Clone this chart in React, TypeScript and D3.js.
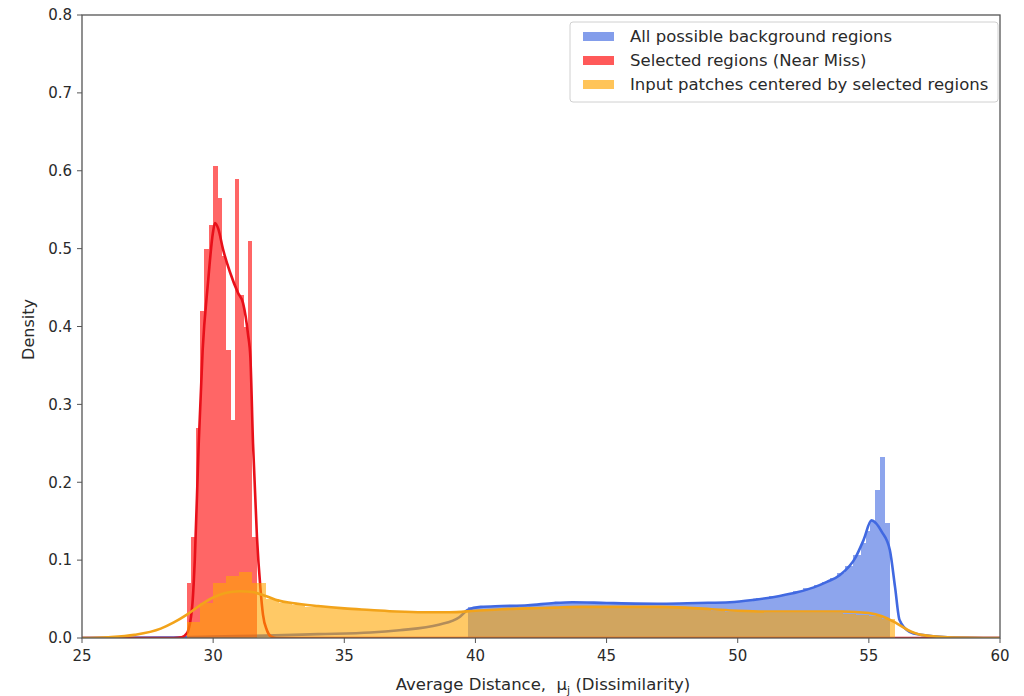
import React from "react";
import * as d3 from "d3";

// ---------- data ----------
const xTicks = [25, 30, 35, 40, 45, 50, 55, 60];
const yTicks = [0.0, 0.1, 0.2, 0.3, 0.4, 0.5, 0.6, 0.7, 0.8];

const legendLabels = [
  "All possible background regions",
  "Selected regions (Near Miss)",
  "Input patches centered by selected regions",
];

// Blue histogram (variable bin edges)
const blueEdges = [
  39.7, 40.2, 40.7, 41.2, 41.7, 42.2, 42.7, 43.2, 43.7, 44.2, 44.7, 45.2, 45.7, 46.2, 46.7,
  47.2, 47.7, 48.2, 48.7, 49.2, 49.7, 50.2, 50.7, 51.2, 51.7, 52.1, 52.5, 52.9, 53.2, 53.5,
  53.8, 54.1, 54.4, 54.7, 54.9, 55.05, 55.22, 55.41, 55.6, 55.8,
];
const blueHeights = [
  0.040, 0.040, 0.041, 0.040, 0.041, 0.043, 0.044, 0.045, 0.046, 0.045, 0.044, 0.044, 0.044,
  0.044, 0.044, 0.044, 0.044, 0.044, 0.045, 0.045, 0.046, 0.048, 0.051, 0.054, 0.057, 0.060,
  0.064, 0.068, 0.072, 0.077, 0.083, 0.093, 0.106, 0.122, 0.138, 0.150, 0.190, 0.233, 0.148,
];
const blueKdeX = [
  25, 28, 30, 32, 34, 36, 37.1, 38.6, 39.4, 39.7, 40.2, 41, 42, 43, 43.7, 45, 47.1, 48.5, 49.7,
  50.6, 51.6, 52.3, 52.9, 53.4, 53.9, 54.5, 54.8, 55.1, 55.5, 55.8, 56.0, 56.17, 56.55, 57, 58, 60,
];
const blueKdeY = [
  0.0, 0.0005, 0.002, 0.003, 0.005, 0.007, 0.010, 0.017, 0.027, 0.036, 0.040, 0.041, 0.042,
  0.045, 0.046, 0.045, 0.044, 0.045, 0.046, 0.049, 0.054, 0.059, 0.065, 0.072, 0.081, 0.104,
  0.126, 0.151, 0.136, 0.113, 0.065, 0.023, 0.008, 0.004, 0.001, 0.0,
];

// Red histogram (uniform bins)
const redStart = 29.0;
const redBinWidth = 0.1667;
const redHeights = [
  0.07, 0.13, 0.27, 0.42, 0.50, 0.53, 0.606, 0.565, 0.49, 0.37, 0.28, 0.59, 0.44, 0.40, 0.51, 0.13,
];
const redKdeX = [
  25, 28.5, 28.8, 29.0, 29.2, 29.3, 29.45, 29.6, 29.8, 29.99, 30.07, 30.2, 30.37, 30.64, 30.95,
  31.14, 31.33, 31.42, 31.52, 31.67, 31.8, 31.9, 32.05, 32.2, 32.4, 60,
];
const redKdeY = [
  0.0, 0.0, 0.001, 0.006, 0.04, 0.1, 0.25, 0.37, 0.455, 0.52, 0.533, 0.525, 0.50, 0.47, 0.443,
  0.43, 0.39, 0.36, 0.25, 0.13, 0.065, 0.03, 0.01, 0.002, 0.0, 0.0,
];

// Orange histogram (uniform bins)
const orangeStart = 29.0;
const orangeBinWidth = 0.5;
const orangeHeights = [
  0.020, 0.045, 0.070, 0.080, 0.085, 0.070, 0.050, 0.045, 0.042, 0.040, 0.040, 0.038, 0.037,
  0.036, 0.035, 0.034, 0.033, 0.033, 0.032, 0.032, 0.033, 0.034, 0.036, 0.037, 0.038, 0.038,
  0.039, 0.040, 0.040, 0.040, 0.041, 0.040, 0.040, 0.040, 0.040, 0.040, 0.040, 0.039, 0.038,
  0.037, 0.035, 0.034, 0.033, 0.033, 0.032, 0.032, 0.032, 0.032, 0.032, 0.032, 0.031, 0.030,
  0.028, 0.025,
];
const orangeKdeX = [
  25, 26, 27, 28, 28.5, 29, 29.5, 30, 30.5, 31, 31.5, 32, 32.5, 33, 34, 35, 36, 37, 38, 39, 40,
  41, 42, 43, 44, 45, 46, 47, 48, 49, 50, 51, 52, 53, 54, 55, 55.5, 56, 56.5, 57, 58, 60,
];
const orangeKdeY = [
  0.0, 0.001, 0.004, 0.012, 0.02, 0.03, 0.042, 0.052, 0.058, 0.060, 0.059, 0.054, 0.048, 0.045,
  0.041, 0.038, 0.036, 0.034, 0.033, 0.033, 0.035, 0.037, 0.038, 0.039, 0.040, 0.040, 0.040,
  0.040, 0.039, 0.037, 0.035, 0.034, 0.034, 0.034, 0.034, 0.032, 0.028, 0.020, 0.010, 0.004,
  0.001, 0.0,
];

// ---------- layout ----------
const W = 1024;
const H = 696;
const left = 82;
const right = 1000;
const top = 15;
const bottom = 638;

const BLUE = "#4169e1";
const RED = "#ff0000";
const ORANGE = "#ffa500";
const FONT = "DejaVu Sans, sans-serif";
const TEXT = "#2a2a2a";

export default function App() {
  const x = d3.scaleLinear().domain([25, 60]).range([left, right]);
  const y = d3.scaleLinear().domain([0, 0.8]).range([bottom, top]);

  const line = d3
    .line<[number, number]>()
    .x((d) => x(d[0]))
    .y((d) => y(d[1]))
    .curve(d3.curveMonotoneX);

  const blueBars = blueHeights.map((h, i) => ({ x0: blueEdges[i], x1: blueEdges[i + 1], h }));
  const redBars = redHeights.map((h, i) => ({
    x0: redStart + i * redBinWidth,
    x1: redStart + (i + 1) * redBinWidth,
    h,
  }));
  const orangeBars = orangeHeights.map((h, i) => ({
    x0: orangeStart + i * orangeBinWidth,
    x1: orangeStart + (i + 1) * orangeBinWidth,
    h,
  }));

  const bars = (data: { x0: number; x1: number; h: number }[], color: string, key: string) =>
    data.map((b, i) => (
      <rect
        key={key + i}
        x={x(b.x0)}
        y={y(b.h)}
        width={x(b.x1) - x(b.x0)}
        height={y(0) - y(b.h)}
        fill={color}
        fillOpacity={0.6}
      />
    ));

  const zip = (a: number[], b: number[]) => a.map((v, i) => [v, b[i]] as [number, number]);

  return (
    <svg
      width={W}
      height={H}
      style={{ position: "absolute", left: 0, top: 0, background: "#fff" }}
      fontFamily={FONT}
    >
      <defs>
        <clipPath id="plot">
          <rect x={left} y={top} width={right - left} height={bottom - top} />
        </clipPath>
      </defs>
      <g clipPath="url(#plot)">
        <g shapeRendering="crispEdges">{bars(blueBars, BLUE, "b")}</g>
        <path d={line(zip(blueKdeX, blueKdeY)) || ""} fill="none" stroke={BLUE} strokeWidth={2.6} />
        <g shapeRendering="crispEdges">{bars(redBars, RED, "r")}</g>
        <path d={line(zip(redKdeX, redKdeY)) || ""} fill="none" stroke="#e8101a" strokeWidth={2.6} />
        <g shapeRendering="crispEdges">{bars(orangeBars, ORANGE, "o")}</g>
        <path d={line(zip(orangeKdeX, orangeKdeY)) || ""} fill="none" stroke="#f2a31a" strokeWidth={2.6} />
      </g>

      {/* frame */}
      <rect x={left} y={top} width={right - left} height={bottom - top} fill="none" stroke="#555" strokeWidth={1.3} />

      {/* x axis */}
      {xTicks.map((t) => (
        <g key={"xt" + t}>
          <line x1={x(t)} x2={x(t)} y1={bottom} y2={bottom + 5} stroke="#555" strokeWidth={1} />
          <text x={x(t)} y={bottom + 23} textAnchor="middle" fontSize={15} fill={TEXT}>
            {t}
          </text>
        </g>
      ))}
      {/* y axis */}
      {yTicks.map((t) => (
        <g key={"yt" + t}>
          <line x1={left - 5} x2={left} y1={y(t)} y2={y(t)} stroke="#555" strokeWidth={1} />
          <text x={left - 10} y={y(t)} dy="0.35em" textAnchor="end" fontSize={15} fill={TEXT}>
            {t.toFixed(1)}
          </text>
        </g>
      ))}

      <text x={543} y={690} textAnchor="middle" fontSize={16.5} fill={TEXT}>
        Average Distance,{"\u00a0\u00a0"}μ
        <tspan fontSize={11} dy={4}>j</tspan>
        <tspan dy={-4}> (Dissimilarity)</tspan>
      </text>
      <text
        transform={`translate(34, ${(top + bottom) / 2 + 3}) rotate(-90)`}
        textAnchor="middle"
        fontSize={16}
        fill={TEXT}
      >
        Density
      </text>

      {/* legend */}
      <rect x={570} y={22} width={428} height={80} rx={3} fill="#fff" fillOpacity={0.85} stroke="#d0d0d0" />
      {legendLabels.map((lab, i) => {
        const cy = 36 + i * 24;
        const col = [BLUE, RED, ORANGE][i];
        return (
          <g key={lab}>
            <rect x={583} y={cy - 4} width={31} height={9} fill={col} fillOpacity={0.65} />
            <text x={630} y={cy} dy="0.35em" fontSize={16.5} fill={TEXT}>
              {lab}
            </text>
          </g>
        );
      })}
    </svg>
  );
}
